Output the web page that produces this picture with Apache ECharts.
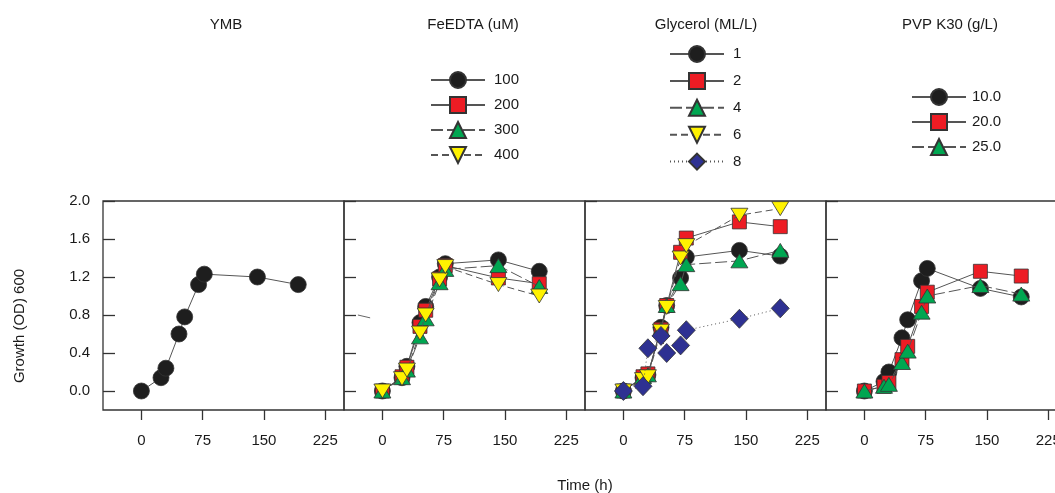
<!DOCTYPE html>
<html>
<head>
<meta charset="utf-8">
<script src="https://cdn.jsdelivr.net/npm/echarts@6/dist/echarts.min.js"></script>
<style>
  html, body { margin: 0; padding: 0; background: #fff; }
  #ChartDIV { width: 1055px; height: 493px; }
</style>
</head>
<body>
<div id="ChartDIV"></div>
<script>
// sampling times (h), shared by all panels
var hours = [0, 24, 30, 46, 53, 70, 77, 142, 192];

var ymbOD = [0, 0.14, 0.24, 0.60, 0.78, 1.12, 1.23, 1.20, 1.12];

var feNames = ['100', '200', '300', '400'];
var fe100 = [0, 0.14, 0.26, 0.72, 0.89, 1.20, 1.34, 1.38, 1.26];
var fe200 = [0, 0.15, 0.25, 0.68, 0.85, 1.18, 1.32, 1.19, 1.13];
var fe300 = [0, 0.14, 0.22, 0.57, 0.76, 1.14, 1.28, 1.32, 1.10];
var fe400 = [0, 0.13, 0.22, 0.61, 0.80, 1.17, 1.31, 1.12, 1.00];

var glyNames = ['1', '2', '4', '6', '8'];
var gly1 = [0, 0.14, 0.17, 0.67, 0.90, 1.19, 1.41, 1.48, 1.42];
var gly2 = [0, 0.15, 0.18, 0.65, 0.90, 1.46, 1.61, 1.78, 1.73];
var gly4 = [0, 0.15, 0.17, 0.65, 0.90, 1.13, 1.33, 1.37, 1.48];
var gly6 = [0, 0.12, 0.15, 0.63, 0.88, 1.40, 1.53, 1.85, 1.92];
var gly8 = [0, 0.05, 0.45, 0.58, 0.40, 0.48, 0.64, 0.76, 0.87];

var pvpNames = ['10.0', '20.0', '25.0'];
var pvp10 = [0, 0.10, 0.20, 0.56, 0.75, 1.16, 1.29, 1.08, 0.99];
var pvp20 = [0, 0.05, 0.09, 0.33, 0.47, 0.89, 1.04, 1.26, 1.21];
var pvp25 = [0, 0.05, 0.07, 0.30, 0.42, 0.83, 1.00, 1.11, 1.02];

// little stray line segment at the left of the FeEDTA panel
var strayX = [-30, -15];
var strayY = [0.80, 0.77];

var xTicks = [0, 75, 150, 225];
var yTicks = [0, 0.4, 0.8, 1.2, 1.6, 2.0];

var FONT = 'Liberation Sans, Arial, sans-serif';
var TXT = '#1a1a1a';

// marker styles by position in a panel
var marks = [
    { symbol: 'circle', size: 16, color: '#1e1e1e', dash: 'solid' },
    { symbol: 'rect', size: 14, color: '#ed1c24', dash: 'solid' },
    { symbol: 'triangle', size: [17, 14], color: '#00a651', dash: [12, 4] },
    { symbol: 'path://M0,0L16,0L8,14Z', size: [17, 14], color: '#fff200', dash: [7, 4] },
    { symbol: 'diamond', size: [18, 19], color: '#2e3192', dash: [1, 3] }
];

function pairs(vals) {
    var res = [];
    for (var i = 0; i < vals.length; i++) {
        res.push([hours[i], vals[i]]);
    }
    return res;
}

function makeSeries(name, vals, k, panel) {
    var m = marks[k];
    return {
        name: name,
        type: 'line',
        xAxisIndex: panel,
        yAxisIndex: panel,
        data: pairs(vals),
        symbol: m.symbol,
        symbolSize: m.size,
        showAllSymbol: true,
        animation: false,
        z: 2 + k,
        lineStyle: { color: '#555', width: 1, type: m.dash },
        itemStyle: { color: m.color, borderColor: '#333', borderWidth: 0.8 }
    };
}

var panelLeft = [103, 344, 585, 826];
var grids = [], xAxes = [], yAxes = [];
for (var p = 0; p < 4; p++) {
    grids.push({
        left: panelLeft[p], top: 201, width: 241, height: 209,
        outerBoundsMode: 'none',
        show: true, borderColor: '#333', borderWidth: 1.3, backgroundColor: 'transparent'
    });
    xAxes.push({
        type: 'value', gridIndex: p, min: -47, max: 248,
        axisLine: { show: false, onZero: false },
        splitLine: { show: false },
        axisTick: { show: true, length: 10, customValues: xTicks, lineStyle: { color: '#333', width: 1.3 } },
        axisLabel: { customValues: xTicks, margin: 23, fontSize: 15, color: TXT, fontFamily: FONT }
    });
    yAxes.push({
        type: 'value', gridIndex: p, min: -0.2, max: 2.0,
        axisLine: { show: false, onZero: false },
        splitLine: { show: false },
        axisTick: { show: true, inside: true, length: 12, customValues: yTicks, lineStyle: { color: '#333', width: 1.3 } },
        axisLabel: {
            show: p === 0, customValues: yTicks, margin: 13, fontSize: 15, color: TXT, fontFamily: FONT,
            formatter: function (v) { return v.toFixed(1); }
        }
    });
}

var series = [];
series.push(makeSeries('YMB', ymbOD, 0, 0));
[fe100, fe200, fe300, fe400].forEach(function (v, k) { series.push(makeSeries(feNames[k], v, k, 1)); });
[gly1, gly2, gly4, gly6, gly8].forEach(function (v, k) { series.push(makeSeries(glyNames[k], v, k, 2)); });
[pvp10, pvp20, pvp25].forEach(function (v, k) { series.push(makeSeries(pvpNames[k], v, k, 3)); });
series.push({
    name: 'stray', type: 'line', xAxisIndex: 1, yAxisIndex: 1, symbol: 'none', animation: false,
    data: [[strayX[0], strayY[0]], [strayX[1], strayY[1]]],
    lineStyle: { color: '#666', width: 1 }
});

function legendAt(names, left, top, gap, pad) {
    return {
        data: names, orient: 'vertical', left: left, top: top,
        itemWidth: 54, itemHeight: 20, itemGap: gap, selectedMode: false,
        textStyle: { fontSize: 15, color: TXT, fontFamily: FONT, padding: [0, 0, 0, pad] }
    };
}

function label(text, x, y, rot) {
    return {
        type: 'text', x: x, y: y, rotation: rot || 0,
        style: { text: text, fontSize: 15, fontFamily: FONT, fill: TXT, align: 'center', verticalAlign: 'middle' }
    };
}

var myChart = echarts.init(document.getElementById('ChartDIV'));
var option = {
    animation: false,
    grid: grids,
    xAxis: xAxes,
    yAxis: yAxes,
    legend: [
        legendAt(feNames, 425, 66, 7, 4),
        legendAt(glyNames, 664, 40, 8.9, 4),
        legendAt(pvpNames, 906, 83, 7, 1)
    ],
    graphic: [
        label('YMB', 226, 25),
        label('FeEDTA (uM)', 473, 25),
        label('Glycerol (ML/L)', 706, 25),
        label('PVP K30 (g/L)', 950, 25),
        label('Time (h)', 585, 486),
        label('Growth (OD) 600', 20, 326, Math.PI / 2)
    ],
    series: series
};
myChart.setOption(option);

window.addEventListener('resize', function () {
    myChart.resize();
});
</script>
</body>
</html>
